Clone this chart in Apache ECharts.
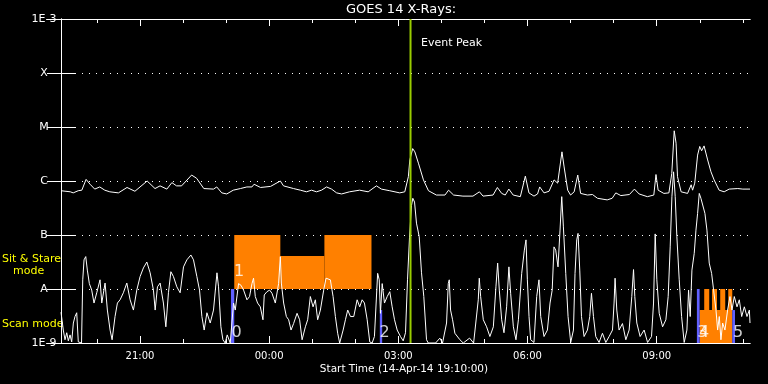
<!DOCTYPE html>
<html>
<head>
<meta charset="utf-8">
<script src="https://cdn.jsdelivr.net/npm/echarts@6/dist/echarts.min.js"></script>
<style>
html,body{margin:0;padding:0;background:#000;}
#chart{width:768px;height:384px;}
</style>
</head>
<body>
<div id="chart"></div>
<script>
// Time axis: minutes after start (14-Apr-14 19:10:00); flux as log10(W/m^2)
const titleText = 'GOES 14 X-Rays:';
const xAxisName = 'Start Time (14-Apr-14 19:10:00)';
const timeMax = 960;
const majorTickTimes = [110, 290, 470, 650, 830];
const majorTickLabels = ['21:00', '00:00', '03:00', '06:00', '09:00'];
const minorTickTimes = [50, 170, 230, 350, 410, 530, 590, 710, 770, 890, 950];
const yTickLabels = ['1E-9', 'A', 'B', 'C', 'M', 'X', '1E-3'];
const eventPeakTime = 487;

// long channel (1-8 A), [minute, log10 flux]
const longChannel = [[0,-6.18],[13,-6.20],[17,-6.22],[24,-6.18],[29,-6.17],[35,-5.97],[40.5,-6.06],[47,-6.15],[54,-6.11],[61,-6.17],[68,-6.20],[80,-6.22],[92,-6.12],[103,-6.19],[120,-6.00],[131,-6.14],[138,-6.09],[147.5,-6.15],[154.5,-6.03],[161,-6.09],[168,-6.09],[182,-5.89],[189,-5.95],[199,-6.14],[212.5,-6.15],[217,-6.11],[224,-6.22],[231,-6.24],[240,-6.17],[250,-6.14],[259,-6.11],[266,-6.11],[269,-6.06],[278,-6.12],[292,-6.10],[305.6,-6.00],[310,-6.09],[324,-6.14],[333.5,-6.17],[342,-6.20],[349,-6.17],[356,-6.20],[363,-6.17],[370,-6.11],[377,-6.15],[384,-6.22],[391,-6.24],[402,-6.20],[416,-6.17],[428,-6.20],[439.5,-6.09],[446.5,-6.15],[458,-6.18],[472,-6.22],[479,-6.20],[484,-5.92],[486,-5.61],[490,-5.40],[493,-5.46],[498,-5.67],[505,-5.98],[512,-6.18],[523,-6.26],[535,-6.26],[540,-6.17],[547,-6.26],[560,-6.28],[574,-6.28],[583,-6.20],[588,-6.28],[602,-6.26],[608,-6.12],[614,-6.23],[619,-6.26],[624,-6.15],[630,-6.26],[640,-6.29],[647,-5.91],[652,-6.22],[659,-6.28],[664,-6.24],[667,-6.11],[673,-6.22],[680,-6.19],[687,-5.98],[692,-6.04],[698,-5.46],[701,-5.74],[706,-6.17],[710,-6.26],[715,-6.20],[720,-5.89],[724,-6.23],[733.5,-6.26],[740.5,-6.25],[747.5,-6.32],[761,-6.35],[768,-6.32],[773,-6.22],[780,-6.27],[792,-6.25],[799,-6.15],[805.5,-6.24],[817,-6.29],[826,-6.26],[829,-5.88],[832,-6.17],[840,-6.23],[847,-6.22],[851,-5.86],[854.4,-5.07],[857,-5.30],[859,-5.92],[864,-6.20],[873,-6.23],[878,-6.07],[880,-6.17],[883,-6.04],[887,-5.52],[890,-5.36],[892.6,-5.44],[896,-5.35],[901,-5.61],[905.6,-5.83],[910,-5.98],[917,-6.17],[924,-6.20],[931,-6.15],[943,-6.14],[950,-6.15],[960,-6.15]];

// short channel (0.5-4 A), [minute, log10 flux]
const shortChannel = [[0,-8.43],[3.2,-8.76],[5.6,-8.94],[8,-8.81],[10.2,-8.96],[12.6,-8.85],[14.9,-8.98],[17.2,-8.63],[19.5,-8.51],[21.9,-8.44],[24.1,-8.98],[26.5,-9],[28.6,-9],[30.3,-7.83],[32.1,-7.46],[34.5,-7.40],[36.7,-7.65],[39.5,-7.90],[42.8,-8.02],[46,-8.26],[49.8,-8.07],[54.4,-7.83],[56.8,-8.26],[61.4,-7.89],[64.6,-8.39],[68.4,-8.76],[71.2,-8.94],[75.3,-8.51],[78.6,-8.26],[82.3,-8.20],[86.9,-8.07],[91.7,-7.89],[96.3,-8.20],[100.9,-8.39],[105.6,-8.02],[110.2,-7.77],[114.8,-7.61],[119.6,-7.50],[124.2,-7.70],[128.8,-8.02],[131.2,-8.39],[134.4,-7.96],[138.1,-7.89],[142.7,-8.26],[146.1,-8.70],[149.7,-8.07],[153.1,-7.68],[156.7,-7.77],[161.4,-7.96],[166,-8.07],[170.7,-7.59],[175.4,-7.46],[181,-7.37],[184.6,-7.46],[189.3,-7.77],[193,-8.02],[196.3,-8.51],[199.5,-8.76],[203.3,-8.44],[207.9,-8.63],[212.5,-8.39],[217.3,-7.70],[219.5,-7.96],[222.8,-8.70],[225.6,-8.94],[228.8,-9],[231.6,-8.85],[235.8,-9],[240.4,-8.26],[242.8,-8.39],[247.4,-7.90],[250.7,-7.93],[254.4,-8.02],[259.1,-8.20],[262.7,-8.14],[266.1,-7.90],[268.3,-7.80],[270.7,-8.14],[273.9,-8.26],[277.7,-8.33],[281.4,-8.57],[283.2,-8.11],[287,-8.05],[290.7,-8.02],[294,-8.08],[298.6,-8.26],[303.2,-7.90],[305.6,-7.40],[307,-7.89],[310.2,-8.26],[314,-8.51],[317.2,-8.57],[320.5,-8.76],[324.1,-8.64],[328.9,-8.45],[332.5,-8.57],[335.9,-8.94],[340.5,-8.70],[343.7,-8.57],[347.4,-8.14],[351.2,-8.33],[354.4,-8.20],[357.6,-8.57],[361.4,-8.39],[366,-8.02],[369.3,-7.80],[371.6,-7.77],[375.3,-7.83],[379.1,-8.14],[382.3,-8.51],[385.5,-8.82],[388.3,-9],[393.1,-8.76],[396.3,-8.57],[399.5,-8.39],[403.3,-8.51],[407.9,-8.51],[412.6,-8.20],[416.2,-8.33],[419.6,-8.20],[422.8,-8.26],[426.6,-8.57],[430.2,-8.98],[433.5,-9],[436.7,-8.88],[441.2,-7.71],[443.4,-7.83],[445.1,-8.45],[447.5,-7.90],[450.7,-8.26],[454.5,-8.14],[458.1,-8.05],[461.4,-8.33],[464.7,-8.57],[468.4,-8.76],[473,-8.88],[476.8,-8.96],[480,-8.81],[482.8,-7.83],[485.6,-7.04],[488.4,-6.45],[490.2,-6.32],[492.6,-6.39],[495.3,-6.78],[499.1,-7.03],[502.3,-7.70],[505.5,-8.14],[509.3,-8.94],[511.7,-9],[521.9,-9],[527.9,-8.91],[531.6,-9],[537.2,-8.63],[539.6,-7.90],[541,-7.83],[542.8,-8.39],[545.6,-8.57],[548.8,-8.82],[555.8,-8.94],[560.5,-9],[569.3,-8.91],[574.9,-9],[581.4,-8.20],[582.8,-7.80],[584.7,-8.14],[588.4,-8.57],[593,-8.70],[597.6,-8.88],[602.4,-8.70],[606,-7.96],[608.4,-7.52],[610.7,-8.02],[614,-8.57],[617.2,-8.81],[620.9,-8.33],[624.1,-7.59],[626.5,-8.08],[630.3,-8.70],[633.9,-8.94],[637.3,-8.57],[641.9,-7.71],[645.6,-7.28],[647.9,-7.09],[649.8,-7.83],[652.1,-8.51],[654.4,-8.94],[659,-8.99],[662.8,-8.14],[666,-7.83],[668.4,-8.51],[673,-8.88],[677.7,-8.76],[681.4,-8.26],[684.4,-8.02],[686.9,-7.22],[689.3,-7.28],[692.5,-7.59],[695.3,-6.91],[697.7,-6.29],[700,-6.85],[703.3,-7.71],[706.5,-8.51],[710.2,-8.99],[714,-8.76],[716.2,-7.71],[718.6,-7.09],[720.4,-6.97],[722.8,-7.65],[725.2,-8.51],[728.8,-8.88],[733.5,-8.76],[736.7,-8.51],[739.1,-8.08],[741.9,-8.51],[745.1,-8.88],[749.7,-8.99],[754.4,-8.82],[759.1,-8.99],[763.7,-8.88],[768.4,-8.76],[770.6,-8.26],[772,-7.80],[774.4,-8.39],[777.6,-8.76],[782.3,-8.64],[787,-8.94],[791.6,-8.76],[795.3,-8.14],[797.7,-7.64],[799.5,-8.14],[802.3,-8.63],[806.9,-8.88],[812.5,-8.76],[817.3,-8.99],[822.8,-8.88],[825.6,-8.26],[827.9,-6.98],[830.2,-7.83],[833.5,-8.45],[838.2,-8.70],[842.8,-8.57],[846,-8.14],[848.8,-7.22],[851.2,-6.29],[853.5,-5.83],[855.8,-6.29],[858.1,-7.03],[861.4,-7.83],[864.7,-8.51],[868.3,-8.99],[872.1,-8.76],[874.4,-8.02],[876.7,-8.51],[879.1,-7.65],[882.3,-7.34],[884.7,-6.91],[887,-6.60],[889.3,-6.23],[891.6,-6.32],[894,-6.29],[897.2,-6.60],[900,-6.91],[903.2,-7.52],[906.5,-7.71],[909.3,-8.02],[912.6,-8.39],[914.9,-8.76],[917.2,-8.51],[919.5,-8.94],[921.9,-8.63],[925.1,-8.76],[928.8,-8.39],[932.1,-8.14],[934.9,-8.39],[938.1,-8.14],[941.9,-8.33],[945.1,-8.20],[948.4,-8.51],[952.1,-8.33],[955.8,-8.51],[959.1,-8.39],[960,-8.63]];

// Sit & Stare blocks [t0, t1, low, high]
const sitStareBlocks = [[241.4,305.6,-8,-7],[305.6,367,-8,-7.39],[367,432.6,-8,-7],[889.8,935.3,-9,-8.39],[896.2,903.2,-8.39,-8],[907,914,-8.39,-8],[918.5,925.5,-8.39,-8],[929.7,935.3,-8.39,-8]];
// Scan mode blocks [t0, t1, low, high]
const scanBlocks = [[236.8,241.4,-9,-8],[444.2,447.5,-9,-8.39],[886,889.8,-9,-8],[935.3,939.1,-9,-8.39]];
// mode change numbers [t, log10 position, text]
const modeLabels = [[244.6,-8.81,'0'],[248,-7.68,'1'],[450.7,-8.81,'2'],[893.5,-8.81,'3'],[896,-8.81,'4'],[943.3,-8.81,'5']];

const FONT = 'DejaVu Sans';
const chart = echarts.init(document.getElementById('chart'), null, {renderer: 'canvas'});

function blockRenderer(color) {
  return function (params, api) {
    const p0 = api.coord([api.value(0), api.value(3)]);
    const p1 = api.coord([api.value(1), api.value(2)]);
    return {type: 'rect', shape: {x: p0[0], y: p0[1], width: p1[0] - p0[0], height: p1[1] - p0[1]}, style: {fill: color}};
  };
}

const xBase = {type: 'value', min: 0, max: timeMax, gridIndex: 0, splitLine: {show: false},
  axisLine: {show: true, onZero: false, lineStyle: {color: '#fff', width: 1}}};

const option = {
  backgroundColor: '#000',
  animation: false,
  grid: {left: 61, right: 18, top: 19, bottom: 41},
  graphic: [
    {type: 'text', x: 401, y: 10, style: {text: titleText, fill: '#fff', font: '13px "' + FONT + '"', textAlign: 'center', textVerticalAlign: 'middle'}},
    {type: 'text', x: 404, y: 369, style: {text: xAxisName, fill: '#fff', font: '10.5px "' + FONT + '"', textAlign: 'center', textVerticalAlign: 'middle'}},
    {type: 'text', x: 421, y: 43, style: {text: 'Event Peak', fill: '#fff', font: '11px "' + FONT + '"', textVerticalAlign: 'middle'}},
    {type: 'text', x: 2, y: 259, style: {text: 'Sit & Stare', fill: '#ffff00', font: '11px "' + FONT + '"', textVerticalAlign: 'middle'}},
    {type: 'text', x: 13, y: 271, style: {text: 'mode', fill: '#ffff00', font: '11px "' + FONT + '"', textVerticalAlign: 'middle'}},
    {type: 'text', x: 2, y: 324, style: {text: 'Scan mode', fill: '#ffff00', font: '11px "' + FONT + '"', textVerticalAlign: 'middle'}}
  ],
  xAxis: [
    Object.assign({}, xBase, {position: 'bottom',
      axisTick: {show: true, inside: true, length: 7, customValues: majorTickTimes, lineStyle: {color: '#fff'}},
      axisLabel: {show: true, customValues: majorTickTimes, color: '#fff', fontFamily: FONT, fontSize: 10, margin: 8,
        formatter: function (v) { return majorTickLabels[majorTickTimes.indexOf(v)]; }}}),
    Object.assign({}, xBase, {position: 'bottom',
      axisTick: {show: true, inside: true, length: 4, customValues: minorTickTimes, lineStyle: {color: '#fff'}},
      axisLabel: {show: false}}),
    Object.assign({}, xBase, {position: 'top',
      axisTick: {show: true, inside: true, length: 7, customValues: majorTickTimes, lineStyle: {color: '#fff'}},
      axisLabel: {show: false}}),
    Object.assign({}, xBase, {position: 'top',
      axisTick: {show: true, inside: true, length: 4, customValues: minorTickTimes, lineStyle: {color: '#fff'}},
      axisLabel: {show: false}})
  ],
  yAxis: [
    {type: 'value', min: -9, max: -3, interval: 1, position: 'left',
      axisLine: {show: true, lineStyle: {color: '#fff', width: 1}},
      axisTick: {show: true, inside: true, length: 14, lineStyle: {color: '#fff'}},
      axisLabel: {show: true, color: '#fff', fontFamily: FONT, fontSize: 11, align: 'center', margin: 17,
        formatter: function (v) { return yTickLabels[Math.round(v + 9)]; }},
      splitLine: {show: true, lineStyle: {color: '#fff', width: 1, type: [1, 6]}}},
    {type: 'value', min: -9, max: -3, interval: 1, position: 'right',
      axisLine: {show: true, lineStyle: {color: '#fff', width: 1}},
      axisTick: {show: true, inside: true, length: 14, lineStyle: {color: '#fff'}},
      axisLabel: {show: false}, splitLine: {show: false}}
  ],
  series: [
    {type: 'custom', renderItem: blockRenderer('#ff8000'), data: sitStareBlocks, xAxisIndex: 0, yAxisIndex: 0, silent: true},
    {type: 'custom', renderItem: blockRenderer('#6060ff'), data: scanBlocks, xAxisIndex: 0, yAxisIndex: 0, silent: true},
    {type: 'line', data: longChannel, showSymbol: false, symbol: 'none', lineStyle: {color: '#fff', width: 1}, clip: true, silent: true},
    {type: 'line', data: shortChannel, showSymbol: false, symbol: 'none', lineStyle: {color: '#fff', width: 1}, clip: true, silent: true},
    {type: 'line', data: [[eventPeakTime, -9], [eventPeakTime, -3]], showSymbol: false, symbol: 'none', lineStyle: {color: '#99cc00', width: 2}, silent: true},
    {type: 'scatter', symbolSize: 0, silent: true,
      data: modeLabels.map(function (m) { return {value: [m[0], m[1]], name: m[2]}; }),
      label: {show: true, position: 'inside', formatter: '{b}', color: '#fff', fontFamily: FONT, fontSize: 16}}
  ]
};
chart.setOption(option);
</script>
</body>
</html>
